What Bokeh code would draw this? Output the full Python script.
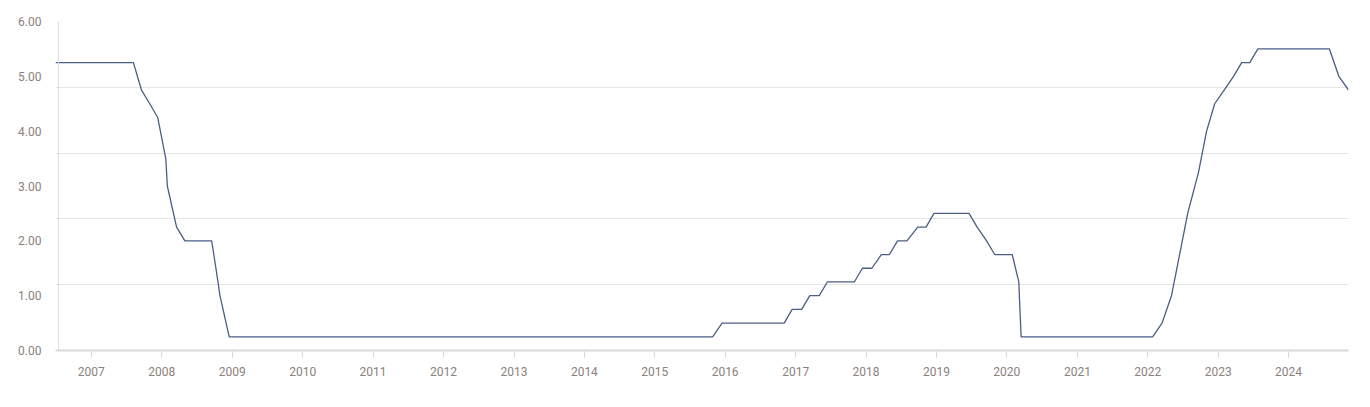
import pandas as pd
from bokeh.plotting import figure
from bokeh.models import (ColumnDataSource, FixedTicker, Range1d, Span,
                          DatetimeTickFormatter, NumeralTickFormatter)
from bokeh.embed import file_html
from bokeh.resources import INLINE

# Data (rate changes, percent)
dates = [
    "2006-06-29", "2007-08-07", "2007-09-18", "2007-10-31", "2007-12-11",
    "2008-01-22", "2008-01-30", "2008-03-18", "2008-04-30", "2008-09-16",
    "2008-10-08", "2008-10-29", "2008-12-16", "2015-10-28", "2015-12-16",
    "2016-11-02", "2016-12-14", "2017-02-01", "2017-03-15", "2017-05-03",
    "2017-06-14", "2017-11-01", "2017-12-13", "2018-01-31", "2018-03-21",
    "2018-05-02", "2018-06-13", "2018-08-01", "2018-09-26", "2018-11-08",
    "2018-12-19", "2019-06-19", "2019-07-31", "2019-09-18", "2019-10-30",
    "2020-01-29", "2020-03-03", "2020-03-15", "2022-01-26", "2022-03-16",
    "2022-05-04", "2022-06-15", "2022-07-27", "2022-09-21", "2022-11-02",
    "2022-12-14", "2023-02-01", "2023-03-22", "2023-05-03", "2023-06-14",
    "2023-07-26", "2024-07-31", "2024-09-18", "2024-11-07",
]
rates = [
    5.25, 5.25, 4.75, 4.50, 4.25,
    3.50, 3.00, 2.25, 2.00, 2.00,
    1.50, 1.00, 0.25, 0.25, 0.50,
    0.50, 0.75, 0.75, 1.00, 1.00,
    1.25, 1.25, 1.50, 1.50, 1.75,
    1.75, 2.00, 2.00, 2.25, 2.25,
    2.50, 2.50, 2.25, 2.00, 1.75,
    1.75, 1.25, 0.25, 0.25, 0.50,
    1.00, 1.75, 2.50, 3.25, 4.00,
    4.50, 4.75, 5.00, 5.25, 5.25,
    5.50, 5.50, 5.00, 4.75,
]
year_labels = [str(y) for y in range(2007, 2025)]
y_ticks = [0, 1, 2, 3, 4, 5, 6]
y_tick_labels = ["0.00", "1.00", "2.00", "3.00", "4.00", "5.00", "6.00"]

epoch = pd.Timestamp("1970-01-01")
def to_ms(s):
    return float((pd.Timestamp(s) - epoch) / pd.Timedelta(milliseconds=1))

x_ms = [to_ms(d) for d in dates]
src = ColumnDataSource(dict(date=x_ms, rate=rates))

LABEL_COLOR = "#8a817b"
FONT = "Roboto"

p = figure(width=1362, height=395, x_axis_type="datetime",
           output_backend="svg", toolbar_location=None,
           x_range=Range1d(x_ms[0], x_ms[-1]), y_range=Range1d(0, 6),
           min_border_left=55, min_border_right=14,
           min_border_top=21, min_border_bottom=45)
p.outline_line_color = None
p.background_fill_color = "white"
p.border_fill_color = "white"

# grid (5 intervals, independent of the labels)
p.xgrid.grid_line_color = None
p.ygrid.ticker = FixedTicker(ticks=[i * 6 / 5 for i in range(6)])
p.ygrid.grid_line_color = "#e6e6e6"
p.ygrid.grid_line_width = 1

# y axis
year_ticks = [to_ms(y + "-01-01") for y in year_labels]
p.yaxis.ticker = FixedTicker(ticks=y_ticks)
p.yaxis.formatter = NumeralTickFormatter(format="0.00")
p.yaxis.major_label_overrides = {t: l for t, l in zip(y_ticks, y_tick_labels)}
p.yaxis.axis_line_color = None
p.yaxis.major_tick_line_color = None
p.yaxis.minor_tick_line_color = None
p.yaxis.major_tick_out = 0
p.yaxis.major_tick_in = 0
p.yaxis.major_label_standoff = 14
p.yaxis.major_label_text_font = FONT
p.yaxis.major_label_text_font_size = "12px"
p.yaxis.major_label_text_color = LABEL_COLOR

# x axis
p.xaxis.ticker = FixedTicker(ticks=year_ticks)
p.xaxis.formatter = DatetimeTickFormatter(years="%Y", months="%Y", days="%Y",
                                          hours="%Y", minutes="%Y")
p.xaxis.major_label_overrides = {t: l for t, l in zip(year_ticks, year_labels)}
p.xaxis.axis_line_color = "#d9d9d9"
p.xaxis.axis_line_width = 2
p.xaxis.major_tick_line_color = "#d9d9d9"
p.xaxis.major_tick_line_width = 1
p.xaxis.major_tick_in = 0
p.xaxis.major_tick_out = 7
p.xaxis.minor_tick_line_color = None
p.xaxis.major_label_standoff = 9
p.xaxis.major_label_text_font = FONT
p.xaxis.major_label_text_font_size = "12px"
p.xaxis.major_label_text_color = LABEL_COLOR

# thin vertical axis line slightly inside the plot's left edge
px_per_ms = 1293.0 / (x_ms[-1] - x_ms[0])
p.add_layout(Span(location=x_ms[0] + 3.0 / px_per_ms, dimension="height",
                  line_color="#dcdcdc", line_width=1))

p.line(x="date", y="rate", source=src, line_color="#4a5d83", line_width=1.3)

open("out.html", "w").write(file_html(p, INLINE))
